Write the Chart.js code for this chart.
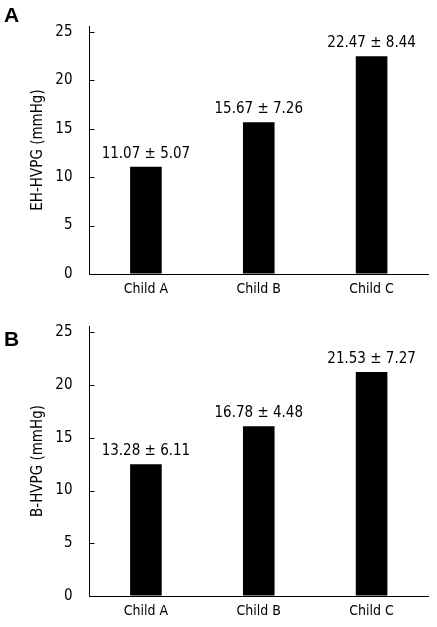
<!DOCTYPE html>
<html>
<head>
<meta charset="utf-8">
<script src="https://cdn.jsdelivr.net/npm/chart.js@4"></script>
<style>
  body { margin: 0; background: #fff; }
  .panel { position: relative; width: 437px; }
  .letter { position: absolute; left: 4px; font: bold 21px "Liberation Sans", Arial, sans-serif; color: #000; }
</style>
</head>
<body>
<div class="panel" style="height:300px">
  <div class="letter" style="top:3px">A</div>
  <canvas id="chartA" width="437" height="300"></canvas>
</div>
<div class="panel" style="height:327px">
  <div class="letter" style="top:27px">B</div>
  <canvas id="chartB" width="437" height="327"></canvas>
</div>
<script>
var categories = ["Child A", "Child B", "Child C"];
var ehValues = [11.07, 15.67, 22.47];
var ehLabels = ["11.07 \u00b1 5.07", "15.67 \u00b1 7.26", "22.47 \u00b1 8.44"];
// bars in panel B are drawn a bit off the printed means
var bValues = [12.5, 16.1, 21.25];
var bLabels = ["13.28 \u00b1 6.11", "16.78 \u00b1 4.48", "21.53 \u00b1 7.27"];
var yTicks = [0, 5, 10, 15, 20, 25];

var fontFam = '"DejaVu Sans Condensed", "DejaVu Sans", sans-serif';

// text above each bar
var barText = {
  id: "barText",
  afterDatasetsDraw(chart) {
    var ctx = chart.ctx;
    var texts = chart.options.plugins.barText.texts;
    ctx.save();
    ctx.fillStyle = "#000";
    ctx.font = "15px " + fontFam;
    ctx.textAlign = "center";
    ctx.textBaseline = "alphabetic";
    chart.getDatasetMeta(0).data.forEach((bar, i) => {
      ctx.fillText(texts[i], bar.x, bar.y - 9);
    });
    ctx.restore();
  }
};

// small tick marks pointing into the plot
var innerTicks = {
  id: "innerTicks",
  afterDraw(chart) {
    var ctx = chart.ctx, y = chart.scales.y, left = chart.chartArea.left;
    ctx.save();
    ctx.strokeStyle = "#000";
    ctx.lineWidth = 1;
    yTicks.forEach((v) => {
      if (v === 0) return;
      var py = Math.round(y.getPixelForValue(v)) + 0.5;
      ctx.beginPath();
      ctx.moveTo(left, py);
      ctx.lineTo(left + 5, py);
      ctx.stroke();
    });
    ctx.restore();
  }
};

function makeChart(id, values, texts, title, topPad, xHeight) {
  return new Chart(document.getElementById(id), {
    type: "bar",
    data: {
      labels: categories,
      datasets: [{
        data: values,
        backgroundColor: "#000",
        borderWidth: 0,
        categoryPercentage: 1,
        barPercentage: 0.28
      }]
    },
    options: {
      responsive: false,
      animation: false,
      layout: { padding: { top: topPad, right: 9, left: 0, bottom: 0 } },
      plugins: {
        legend: { display: false },
        tooltip: { enabled: false },
        barText: { texts: texts }
      },
      scales: {
        x: {
          grid: { display: true, drawOnChartArea: false, drawTicks: false },
          border: { display: true, color: "#000", width: 1 },
          ticks: { color: "#000", font: { family: fontFam, size: 14 }, padding: 7 },
          afterFit(scale) { scale.height = xHeight; }
        },
        y: {
          min: 0,
          max: 25.6,
          grid: { display: true, drawOnChartArea: false, drawTicks: false },
          border: { display: true, color: "#000", width: 1 },
          ticks: {
            stepSize: 5,
            includeBounds: false,
            color: "#000",
            padding: 17,
            font: { family: fontFam, size: 15 }
          },
          title: {
            display: true,
            text: title,
            color: "#000",
            font: { family: fontFam, size: 15 },
            padding: { top: 29, bottom: 0 }
          },
          afterFit(scale) { scale.width = 89.5; }
        }
      }
    },
    plugins: [barText, innerTicks]
  });
}

makeChart("chartA", ehValues, ehLabels, "EH-HVPG (mmHg)", 3, 26);
makeChart("chartB", bValues, bLabels, "B-HVPG (mmHg)", 26, 31);
</script>
</body>
</html>
